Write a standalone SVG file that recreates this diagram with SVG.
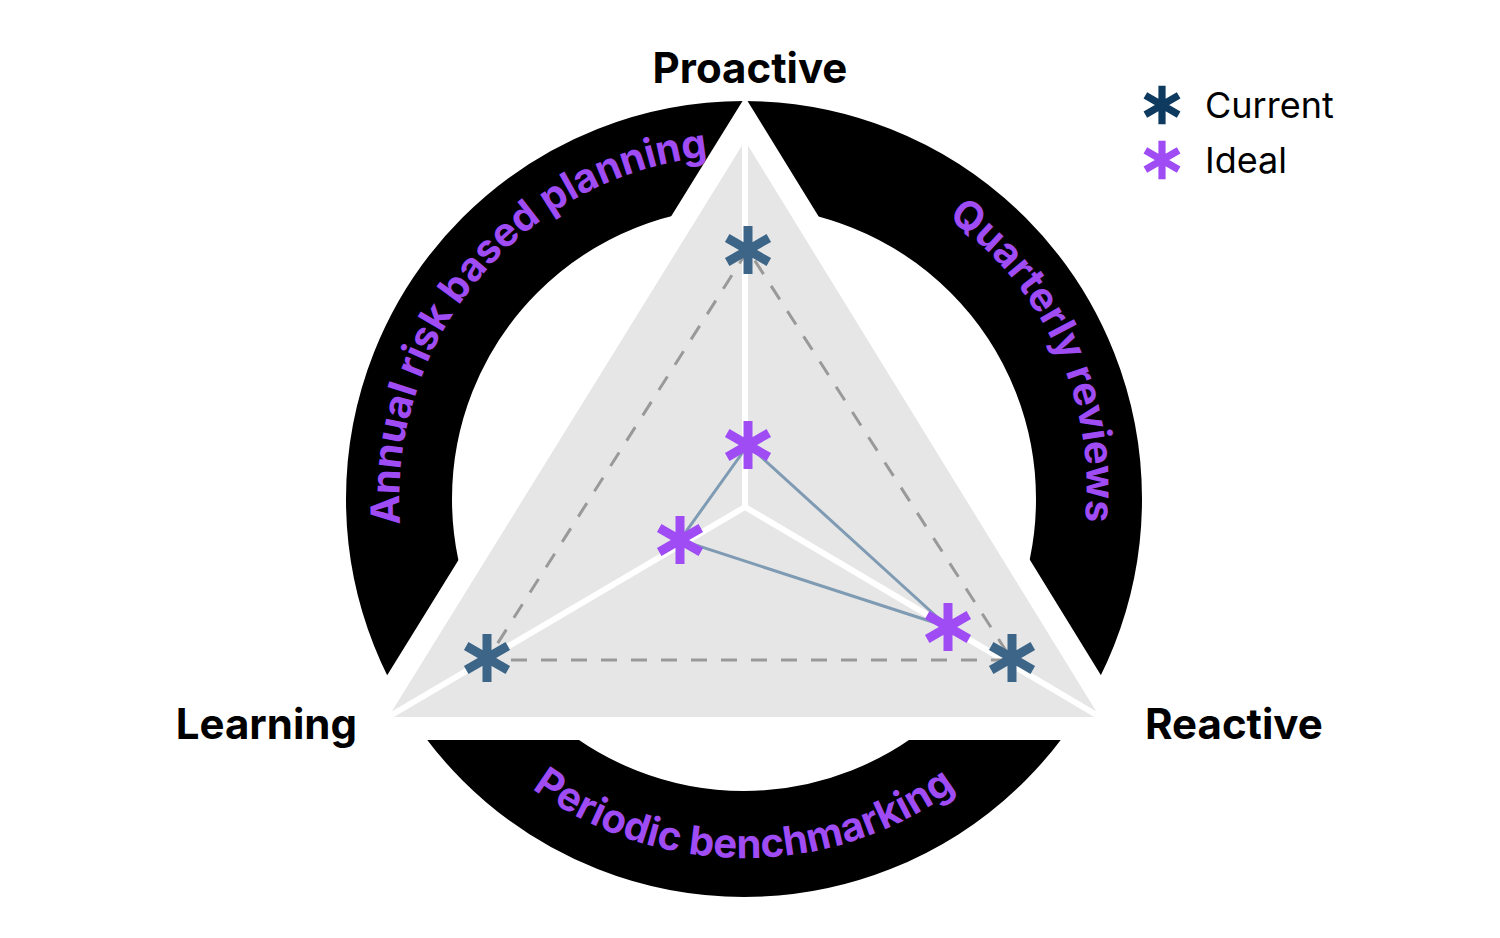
<svg xmlns="http://www.w3.org/2000/svg" width="1500" height="938" viewBox="0 0 1500 938">
<style>
.lbl{font-family:Inter,"Liberation Sans",sans-serif;font-weight:700;font-size:42px;fill:#000}
.arc{font-family:Inter,"Liberation Sans",sans-serif;font-weight:700;font-size:40px;fill:#a04cf5}
.leg{font-family:Inter,"Liberation Sans",sans-serif;font-size:36px;fill:#000}
</style>
<defs>
<g id="ast"><path d="M0,-24V24M-20.8,-12L20.8,12M-20.8,12L20.8,-12" stroke-width="9"/></g>
<path id="pL" d="M420.7,618.1 A344,344 0 0 1 803.7,160.2" fill="none"/>
<path id="pR" d="M917,198.8 A330,330 0 0 1 1079,557.3" fill="none"/>
<path id="pB" d="M433.1,678.5 A359,359 0 0 0 1054.9,678.5" fill="none"/>
</defs>
<rect width="1500" height="938" fill="#fff"/>
<g id="ring"><circle cx="744" cy="499" r="345" fill="none" stroke="#000" stroke-width="106"/></g>
<g id="triangle">
<polygon points="745,135 383,720 1105,720" fill="#e6e6e6" stroke="#fff" stroke-width="40" stroke-linejoin="miter"/>
<polygon points="745,135 383,720 1105,720" fill="#e6e6e6" stroke="#fff" stroke-width="6"/>
<path d="M745,507V135M745,507L383,720M745,507L1105,720" stroke="#fff" stroke-width="6" fill="none"/>
</g>
<g id="connectors" fill="none">
<polygon points="748,250 487,660 1012,660" stroke="#999" stroke-width="3" stroke-dasharray="16,14"/>
<polygon points="748,445 680,540 948,627" stroke="#7f9bb3" stroke-width="3"/>
</g>
<g id="current" stroke="#3d6587">
<use href="#ast" x="748" y="250"/><use href="#ast" x="487" y="658"/><use href="#ast" x="1012" y="658"/>
</g>
<g id="ideal" stroke="#a04cf5">
<use href="#ast" x="748" y="445"/><use href="#ast" x="680" y="540"/><use href="#ast" x="948" y="627"/>
</g>
<g id="labels">
<text class="lbl" x="750" y="83" text-anchor="middle">Proactive</text>
<text class="lbl" x="357" y="739" text-anchor="end">Learning</text>
<text class="lbl" x="1145" y="739">Reactive</text>
</g>
<g id="ringtext">
<text class="arc"><textPath href="#pL" startOffset="50%" text-anchor="middle">Annual risk based planning</textPath></text>
<text class="arc"><textPath href="#pR" startOffset="50%" text-anchor="middle">Quarterly reviews</textPath></text>
<text class="arc"><textPath href="#pB" startOffset="50%" text-anchor="middle">Periodic benchmarking</textPath></text>
</g>
<g id="legend">
<g transform="translate(1162,105) scale(0.8)" stroke="#0d3a5e"><use href="#ast"/></g>
<text class="leg" x="1205" y="118">Current</text>
<g transform="translate(1162,160) scale(0.8)" stroke="#a04cf5"><use href="#ast"/></g>
<text class="leg" x="1205" y="173">Ideal</text>
</g>
</svg>
